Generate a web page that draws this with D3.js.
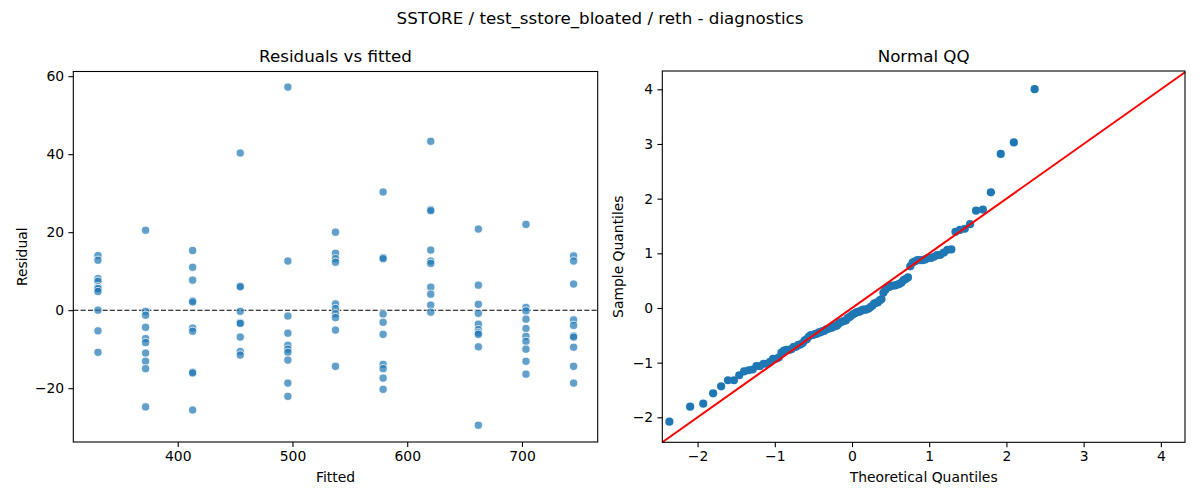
<!DOCTYPE html>
<html>
<head>
<meta charset="utf-8">
<script src="https://cdn.jsdelivr.net/npm/d3@7"></script>
<style>
  body { margin: 0; background: #fff; }
  text { font-family: "DejaVu Sans", sans-serif; fill: #000; }
</style>
</head>
<body>
<div id="chart"></div>
<script>
// fitted value of each group (x positions of the residual columns)
const fitted = [330.5, 372, 413, 454.5, 496, 537.5, 579, 620.5, 662, 703.5, 745];

// residuals read per fitted group
const res330 = [14.0, 12.8, 8.1, 7.4, 6.0, 5.6, 5.5, 4.8, 0.0, -5.3, -10.8];
const res372 = [20.5, -0.3, -1.3, -4.4, -7.3, -8.3, -11.0, -13.1, -15.0, -24.8];
const res413 = [15.3, 11.0, 7.7, 2.4, 2.1, -4.6, -5.4, -15.9, -16.1, -25.6];
const res455 = [40.3, 6.2, 6.0, -0.3, -3.2, -3.4, -6.9, -10.6, -11.5];
const res496 = [57.2, 12.6, -1.5, -5.9, -9.0, -10.0, -10.8, -12.8, -18.7, -22.1];
const res538 = [20.0, 14.6, 13.2, 12.3, 1.6, 0.4, -0.9, -1.9, -5.1, -14.4];
const res579 = [30.3, 13.5, 13.2, -1.0, -3.1, -6.2, -13.9, -15.0, -17.4, -20.3];
const res621 = [43.3, 25.8, 25.5, 15.4, 12.6, 12.0, 5.9, 4.1, 1.3, -0.5];
const res662 = [20.8, 6.4, 1.5, -0.8, -3.6, -5.0, -5.8, -6.2, -9.4, -29.5];
const res704 = [22.0, 0.7, -0.2, -2.3, -4.7, -6.7, -8.0, -10.0, -13.1, -16.4];
const res745 = [13.9, 12.6, 6.7, -2.5, -3.9, -6.6, -6.9, -9.5, -14.4, -18.7];

const fittedTicks = [400, 500, 600, 700];
const residTicks = [-20, 0, 20, 40, 60];
const qqTicks = [-2, -1, 0, 1, 2, 3, 4];

const groups = [res330, res372, res413, res455, res496, res538, res579, res621, res662, res704, res745];
const points = [];
groups.forEach((g, i) => g.forEach(r => points.push({ fitted: fitted[i], resid: r })));

// standard normal quantile (Acklam's approximation) for the QQ transform
function normInv(p) {
    const a = [-3.969683028665376e+01, 2.209460984245205e+02, -2.759285104469687e+02, 1.383577518672690e+02, -3.066479806614716e+01, 2.506628277459239e+00];
    const b = [-5.447609879822406e+01, 1.615858368580409e+02, -1.556989798598866e+02, 6.680131188771972e+01, -1.328068155288572e+01];
    const c = [-7.784894002430293e-03, -3.223964580411365e-01, -2.400758277161838e+00, -2.549732539343734e+00, 4.374664141464968e+00, 2.938163982698783e+00];
    const d = [7.784695709041462e-03, 3.224671290700398e-01, 2.445134137142996e+00, 3.754408661907416e+00];
    const pl = 0.02425;
    if (p < pl) {
        const q = Math.sqrt(-2 * Math.log(p));
        return (((((c[0]*q+c[1])*q+c[2])*q+c[3])*q+c[4])*q+c[5]) / ((((d[0]*q+d[1])*q+d[2])*q+d[3])*q+1);
    }
    if (p > 1 - pl) {
        const q = Math.sqrt(-2 * Math.log(1 - p));
        return -(((((c[0]*q+c[1])*q+c[2])*q+c[3])*q+c[4])*q+c[5]) / ((((d[0]*q+d[1])*q+d[2])*q+d[3])*q+1);
    }
    const q = p - 0.5, r = q * q;
    return (((((a[0]*r+a[1])*r+a[2])*r+a[3])*r+a[4])*r+a[5])*q / (((((b[0]*r+b[1])*r+b[2])*r+b[3])*r+b[4])*r+1);
}

const resid = points.map(d => d.resid);
const mu = d3.mean(resid);
const sd = d3.deviation(resid);
const n = resid.length;
const qq = resid.slice().sort(d3.ascending)
    .map((r, i) => ({ theo: normInv((i + 1) / (n + 1)), sample: (r - mu) / sd }));

const W = 1200, H = 500;
const svg = d3.select("#chart").append("svg").attr("width", W).attr("height", H);

svg.append("text")
    .attr("x", 600).attr("y", 24)
    .attr("text-anchor", "middle")
    .style("font-size", "16.7px")
    .text("SSTORE / test_sstore_bloated / reth - diagnostics");

// ---- left: residuals vs fitted
const L = { left: 73.3, right: 597.7, top: 71.5, bottom: 442 };
const x1 = d3.scaleLinear().domain([309.0, 766.0]).range([L.left, L.right]);
const y1 = d3.scaleLinear().domain([-33.8, 61.2]).range([L.bottom, L.top]);

const p1 = svg.append("g");
p1.append("line")
    .attr("x1", L.left).attr("x2", L.right)
    .attr("y1", y1(0)).attr("y2", y1(0))
    .attr("stroke", "#000").attr("stroke-width", 1.1)
    .attr("stroke-dasharray", "5.1,2.2");

p1.append("g")
    .selectAll("circle")
    .data(points)
    .join("circle")
    .attr("cx", d => x1(d.fitted))
    .attr("cy", d => y1(d.resid))
    .attr("r", 4.1)
    .attr("fill", "#1f77b4")
    .attr("fill-opacity", 0.7)
    .attr("stroke", "#fff")
    .attr("stroke-width", 0.75);

const intFmt = d3.format("d");
p1.append("g")
    .attr("transform", `translate(0,${L.bottom})`)
    .call(d3.axisBottom(x1).tickValues(fittedTicks).tickFormat(intFmt).tickSize(4.9).tickPadding(4.2).tickSizeOuter(0));
p1.append("g")
    .attr("transform", `translate(${L.left},0)`)
    .call(d3.axisLeft(y1).tickValues(residTicks).tickFormat(intFmt).tickSize(4.9).tickPadding(4.2).tickSizeOuter(0));

p1.append("rect")
    .attr("x", L.left).attr("y", L.top)
    .attr("width", L.right - L.left).attr("height", L.bottom - L.top)
    .attr("fill", "none").attr("stroke", "#000").attr("stroke-width", 1.1);

p1.append("text").attr("x", (L.left + L.right) / 2).attr("y", 62)
    .attr("text-anchor", "middle").style("font-size", "16.7px").text("Residuals vs fitted");
p1.append("text").attr("x", (L.left + L.right) / 2).attr("y", 482)
    .attr("text-anchor", "middle").style("font-size", "13.9px").text("Fitted");
p1.append("text")
    .attr("transform", `translate(27,${(L.top + L.bottom) / 2}) rotate(-90)`)
    .attr("text-anchor", "middle").style("font-size", "13.9px").text("Residual");

// ---- right: normal QQ
const R = { left: 662.3, right: 1185, top: 71, bottom: 442.3 };
const x2 = d3.scaleLinear().domain([-2.457, 4.313]).range([R.left, R.right]);
const y2 = d3.scaleLinear().domain([-2.457, 4.335]).range([R.bottom, R.top]);

const p2 = svg.append("g");
p2.append("g")
    .selectAll("circle")
    .data(qq)
    .join("circle")
    .attr("cx", d => x2(d.theo))
    .attr("cy", d => y2(d.sample))
    .attr("r", 4.1)
    .attr("fill", "#1f77b4");

const lo = x2.domain()[0], hi = x2.domain()[1];
p2.append("line")
    .attr("x1", x2(lo)).attr("y1", y2(lo))
    .attr("x2", x2(hi)).attr("y2", y2(hi))
    .attr("stroke", "red").attr("stroke-width", 2);

p2.append("g")
    .attr("transform", `translate(0,${R.bottom})`)
    .call(d3.axisBottom(x2).tickValues(qqTicks).tickFormat(intFmt).tickSize(4.9).tickPadding(4.2).tickSizeOuter(0));
p2.append("g")
    .attr("transform", `translate(${R.left},0)`)
    .call(d3.axisLeft(y2).tickValues(qqTicks).tickFormat(intFmt).tickSize(4.9).tickPadding(4.2).tickSizeOuter(0));

p2.append("rect")
    .attr("x", R.left).attr("y", R.top)
    .attr("width", R.right - R.left).attr("height", R.bottom - R.top)
    .attr("fill", "none").attr("stroke", "#000").attr("stroke-width", 1.1);

p2.append("text").attr("x", (R.left + R.right) / 2).attr("y", 62)
    .attr("text-anchor", "middle").style("font-size", "16.7px").text("Normal QQ");
p2.append("text").attr("x", (R.left + R.right) / 2).attr("y", 482)
    .attr("text-anchor", "middle").style("font-size", "13.9px").text("Theoretical Quantiles");
p2.append("text")
    .attr("transform", `translate(623,${(R.top + R.bottom) / 2}) rotate(-90)`)
    .attr("text-anchor", "middle").style("font-size", "13.9px").text("Sample Quantiles");

svg.selectAll(".domain").remove();
svg.selectAll(".tick text").style("font-size", "13.9px").style("font-family", "DejaVu Sans");
svg.selectAll(".tick line").attr("stroke-width", 1.1);
</script>
</body>
</html>
